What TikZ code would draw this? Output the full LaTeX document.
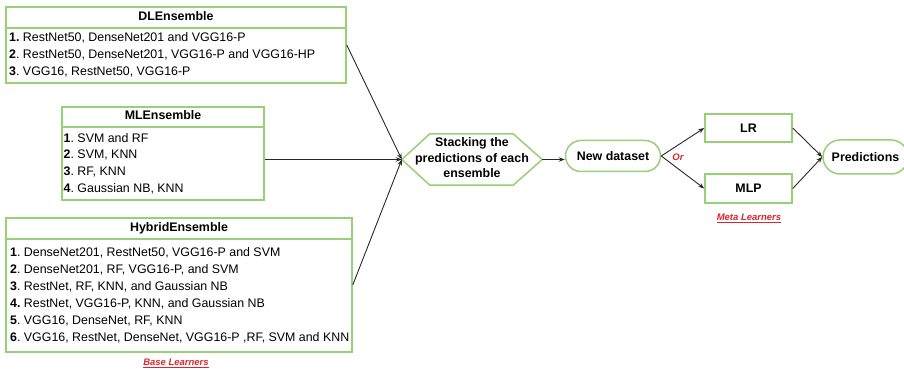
\documentclass[tikz,border=0pt]{standalone}
\usepackage{fontspec}
\setmainfont{Liberation Sans}
\usetikzlibrary{arrows.meta,shapes.misc,calc}
\definecolor{gline}{RGB}{151,208,119}
\definecolor{redlab}{RGB}{220,38,45}
\definecolor{arr}{RGB}{40,40,40}
\frenchspacing
\tikzset{
 gbox/.style={draw=gline, line width=1.5pt, fill=white, rectangle, inner sep=0},
 gpill/.style={draw=gline, line width=1.5pt, fill=white, rounded rectangle, inner sep=0,
   font=\fontsize{12.4}{15}\selectfont\bfseries},
 gsep/.style={draw=gline, line width=1.5pt},
 hdr/.style={font=\fontsize{12.4}{15}\selectfont\bfseries, anchor=base, inner sep=0},
 item/.style={font=\fontsize{12.4}{15}\selectfont, anchor=base west, inner sep=0},
 conn/.style={draw=arr, line width=0.9pt, -{Stealth[length=6pt,width=4.5pt]}},
 lab/.style={font=\fontsize{9.5}{11}\selectfont\bfseries\itshape, text=redlab, inner sep=0},
}
\begin{document}
\frenchspacing
\begin{tikzpicture}[x=1pt,y=-1pt]
\useasboundingbox (0,0) rectangle (904,371);
% ---------- DLEnsemble
\node[gbox, minimum width=340, minimum height=76] (dl) at (176,45) {};
\draw[gsep] (dl.west |- 0,28) -- (dl.east |- 0,28);
\node[hdr] (dlt) at (176,20.7) {DLEnsemble};
\node[item] (dl1) at (9,41.7) {\textbf{1.} RestNet50, DenseNet201 and VGG16-P};
\node[item] (dl2) at (9,58.8) {\textbf{2}. RestNet50, DenseNet201, VGG16-P and VGG16-HP};
\node[item] (dl3) at (9,76) {\textbf{3}. VGG16, RestNet50, VGG16-P};
% ---------- MLEnsemble
\node[gbox, minimum width=202, minimum height=93] (ml) at (163,153.5) {};
\draw[gsep] (ml.west |- 0,127) -- (ml.east |- 0,127);
\node[hdr] (mlt) at (163,120) {MLEnsemble};
\node[item] (ml1) at (63.5,142.3) {\textbf{1}. SVM and RF};
\node[item] (ml2) at (63.5,158.9) {\textbf{2}. SVM, KNN};
\node[item] (ml3) at (63.5,175.6) {\textbf{3}. RF, KNN};
\node[item] (ml4) at (63.5,192.3) {\textbf{4}. Gaussian NB, KNN};
% ---------- HybridEnsemble
\node[gbox, minimum width=346, minimum height=134] (hy) at (179,285) {};
\draw[gsep] (hy.west |- 0,239) -- (hy.east |- 0,239);
\node[hdr] (hyt) at (179,231.7) {HybridEnsemble};
\node[item] (hy1) at (10,256.7) {\textbf{1}. DenseNet201, RestNet50, VGG16-P and SVM};
\node[item] (hy2) at (10,273.6) {\textbf{2}. DenseNet201, RF, VGG16-P, and SVM};
\node[item] (hy3) at (10,290.4) {\textbf{3}. RestNet, RF, KNN, and Gaussian NB};
\node[item] (hy4) at (10,307.3) {\textbf{4.} RestNet, VGG16-P, KNN, and Gaussian NB};
\node[item] (hy5) at (10,324.1) {\textbf{5}. VGG16, DenseNet, RF, KNN};
\node[item] (hy6) at (10,341) {\textbf{6}. VGG16, RestNet, DenseNet, VGG16-P ,RF, SVM and KNN};
\node[lab] (bl) at (176,363) {\underline{Base Learners}};
% ---------- Stacking hexagon
\node[inner sep=0, minimum width=140, minimum height=51] (hex) at (472,159.5) {};
\draw[gsep, fill=white] (hex.west) -- ($(hex.north west)+(28,0)$) -- ($(hex.north east)+(-29,0)$)
  -- (hex.east) -- ($(hex.south east)+(-29,0)$) -- ($(hex.south west)+(28,0)$) -- cycle;
\node[font=\fontsize{12.4}{15.5}\selectfont\bfseries, align=center, inner sep=0] (hext) at (472,157.6)
  {Stacking the\\predictions of each\\ensemble};
% ---------- right part
\node[gpill, minimum width=95, minimum height=31] (nd) at (613,156) {New dataset};
\node[gbox, minimum width=87, minimum height=28, font=\fontsize{12.4}{15}\selectfont\bfseries] (lr) at (748.5,128) {LR};
\node[gbox, minimum width=87, minimum height=29, font=\fontsize{12.4}{15}\selectfont\bfseries] (mlp) at (748.5,188.5) {MLP};
\node[gpill, minimum width=85, minimum height=34] (pred) at (865.5,157) {Predictions};
\node[lab] (or) at (678,157.5) {Or};
\node[lab] (meta) at (749,218) {\underline{Meta Learners}};
% ---------- connectors
\draw[conn] (dl.east) -- (hex.west);
\draw[conn] (ml.east |- hex.west) -- (hex.west);
\draw[conn] (hy.east) -- (hex.west);
\draw[conn] (hex.east) -- (nd.west |- hex.east);
\draw[conn] (nd.east) -- (lr.west);
\draw[conn] (nd.east) -- (mlp.west);
\draw[conn] (lr.east) -- (pred.west);
\draw[conn] (mlp.east) -- (pred.west);
\end{tikzpicture}
\end{document}
